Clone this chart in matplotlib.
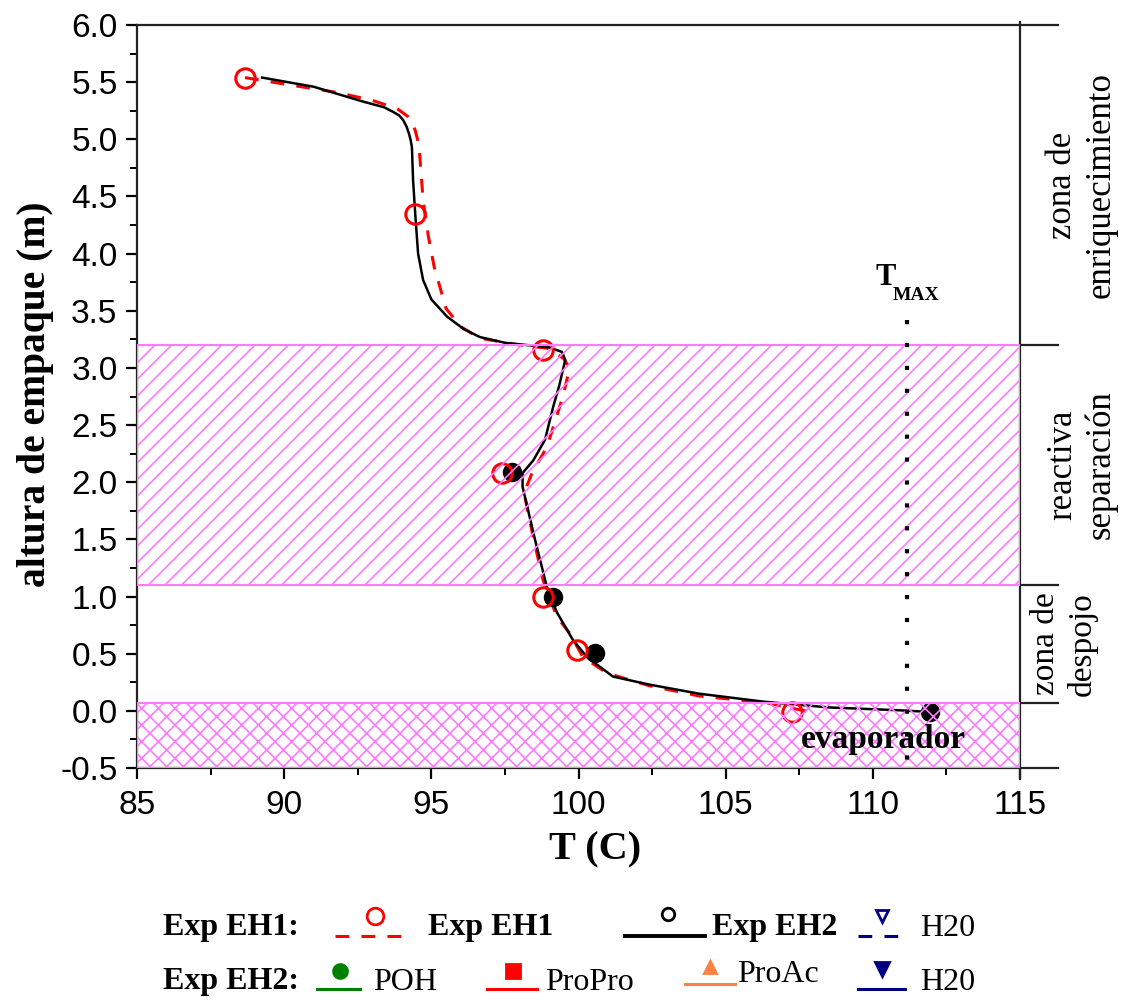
import matplotlib
matplotlib.use("Agg")
import matplotlib.pyplot as plt
from matplotlib.lines import Line2D
from matplotlib.ticker import FormatStrFormatter, AutoMinorLocator
import numpy as np

plt.rcParams["axes.unicode_minus"] = False
plt.rcParams["hatch.linewidth"] = 1.2
plt.rcParams["font.family"] = ["Liberation Sans", "DejaVu Sans"]
SERIF = ["Liberation Serif", "DejaVu Serif"]

# ---- simulated temperature profiles (T in C, packing height in m) ----
sim_eh2_T = [89.25, 91.0, 92.68, 93.4, 93.7, 93.9, 94.04, 94.16, 94.24, 94.3,
             94.34, 94.38, 94.45, 94.55, 94.72, 95.0, 95.53, 96.1, 96.65, 97.5,
             98.25, 99.0, 99.44, 99.55, 99.35, 99.14, 98.86, 98.46, 98.1, 98.1,
             98.52, 98.93, 99.27, 99.81, 100.29, 101.17, 102.4, 104.1, 106.3,
             108.5, 110.9, 111.95]
sim_eh2_h = [5.54, 5.46, 5.33, 5.28, 5.24, 5.21, 5.17, 5.11, 5.05, 4.99,
             4.93, 4.64, 4.36, 4.0, 3.77, 3.6, 3.45, 3.34, 3.27, 3.22,
             3.2, 3.18, 3.14, 3.07, 2.85, 2.66, 2.37, 2.19, 2.08, 1.96,
             1.5, 1.08, 0.86, 0.62, 0.47, 0.30, 0.23, 0.15, 0.08,
             0.03, 0.005, -0.01]

sim_eh1_T = [88.67, 89.6, 91.8, 93.0, 93.83, 94.2, 94.35, 94.45, 94.53, 94.6,
             94.72, 94.9, 95.1, 95.5, 96.0, 96.65, 98.0, 99.0, 99.5, 99.7,
             99.47, 98.93, 98.42, 98.25, 98.18, 98.46, 98.8, 99.27, 99.7, 100.15,
             100.97, 102.4, 104.1, 106.4, 107.3, 107.9]
sim_eh1_h = [5.54, 5.5, 5.41, 5.34, 5.27, 5.2, 5.15, 5.08, 5.0, 4.88,
             4.47, 4.15, 3.88, 3.52, 3.36, 3.26, 3.2, 3.17, 3.08, 3.0,
             2.75, 2.31, 2.08, 1.97, 1.87, 1.52, 1.14, 0.82, 0.68, 0.47,
             0.33, 0.22, 0.13, 0.07, 0.02, -0.01]

# ---- experimental points ----
exp_eh1_T = [88.67, 94.45, 98.8, 97.4, 98.8, 99.95, 107.26]
exp_eh1_h = [5.54, 4.35, 3.16, 2.08, 1.0, 0.53, -0.01]
exp_eh2_T = [97.74, 99.13, 100.56, 111.95]
exp_eh2_h = [2.09, 1.0, 0.51, -0.01]

# ---- column sections ----
reactive_zone = (1.1, 3.2)
evaporator_zone = (-0.5, 0.07)
zone_edges = [6.0, 3.2, 1.1, 0.07, -0.5]
t_max = 111.16

W, H = 1130, 1002
fig = plt.figure(figsize=(W / 100, H / 100), dpi=100)
fx = lambda px: px / W
fy = lambda py: 1 - py / H

ax = fig.add_axes([fx(137), fy(768), fx(1020) - fx(137), fy(25) - fy(768)])
ax.set_xlim(85, 115)
ax.set_ylim(-0.5, 6.0)
ax.set_xticks(np.arange(85, 116, 5))
ax.set_yticks(np.arange(-0.5, 6.01, 0.5))
ax.yaxis.set_major_formatter(FormatStrFormatter("%.1f"))
ax.xaxis.set_minor_locator(AutoMinorLocator(2))
ax.yaxis.set_minor_locator(AutoMinorLocator(2))
ax.tick_params(which="major", direction="out", length=8, width=1.6, labelsize=24)
ax.tick_params(which="minor", direction="out", length=5, width=1.4)
ax.tick_params(axis="x", pad=8)
ax.tick_params(axis="y", pad=6)
ax.tick_params(top=False, right=False, which="both")
for s in ["left", "bottom", "top"]:
    ax.spines[s].set_linewidth(1.6)
    ax.spines[s].set_color("#222222")
ax.spines["right"].set_visible(False)

# simulated profiles
ax.plot(sim_eh1_T, sim_eh1_h, color="red", lw=2.2, dashes=(4.5, 4), zorder=2)
ax.plot(sim_eh2_T, sim_eh2_h, color="black", lw=1.8, zorder=3)

# experimental points
ax.plot(exp_eh2_T, exp_eh2_h, "o", color="black", ms=13, zorder=4)
ax.plot(exp_eh1_T, exp_eh1_h, "o", mfc="none", mec="red", ms=14, mew=2.2, zorder=5)

# hatched sections (over the data)
ax.axhspan(*reactive_zone, facecolor="none", edgecolor="#ff7aff", hatch="//", lw=1.5, zorder=6)
ax.axhspan(*evaporator_zone, facecolor="none", edgecolor="#ff7aff", hatch="xx", lw=1.5, zorder=6)

# maximum temperature marker
ax.plot([t_max, t_max], [3.42, -0.56], color="black", lw=3, dashes=(1, 4.5),
        clip_on=False, zorder=7)
ax.text(110.45, 3.79, "T", family=SERIF, fontweight="bold", fontsize=22,
        ha="center", va="center")
ax.text(111.47, 3.63, "MAX", family=SERIF, fontweight="bold", fontsize=14,
        ha="center", va="center")
ax.text(110.35, -0.255, "evaporador", family=SERIF, fontweight="bold", fontsize=24,
        ha="center", va="center", zorder=8)

# zone bracket on the right
tr = ax.get_yaxis_transform()
ax.plot([1.0, 1.0], [6.03, -0.6], transform=tr, color="#222222", lw=1.6, clip_on=False)
for yv in zone_edges:
    ax.plot([1.0, 1.043], [yv, yv], transform=tr, color="#222222", lw=1.6, clip_on=False)
ax.text(1.07, 4.6, "zona de\nenriquecimiento", transform=tr, rotation=90,
        family=SERIF, fontsize=25, ha="center", va="center", multialignment="center",
        linespacing=1.2)
ax.text(1.07, 2.15, "reactiva\nseparación", transform=tr, rotation=90,
        family=SERIF, fontsize=25, ha="center", va="center", multialignment="center",
        linespacing=1.2)
ax.text(1.05, 0.585, "zona de\ndespojo", transform=tr, rotation=90,
        family=SERIF, fontsize=24, ha="center", va="center", multialignment="center",
        linespacing=1.2)

# axis labels
fig.text(fx(36), fy(394), "altura de empaque (m)", rotation=90, family=SERIF,
         fontweight="bold", fontsize=28.5, ha="center", va="center")
fig.text(fx(595), fy(850), "T (C)", family=SERIF, fontweight="bold", fontsize=29,
         ha="center", va="center")

# ---- legend block ----
def handle(x0, x1, yl, xm, ym, color, marker, ms, filled, dashed=False, lw=2.2):
    kw = dict(transform=fig.transFigure, color=color, lw=lw)
    if dashed:
        kw["dashes"] = (4.5, 4)
    fig.add_artist(Line2D([fx(x0), fx(x1)], [fy(yl), fy(yl)], **kw))
    fig.add_artist(Line2D([fx(xm)], [fy(ym)], transform=fig.transFigure, ls="none",
                          marker=marker, ms=ms, mec=color,
                          mfc=color if filled else "none", mew=2.0))

def label(x, y, s, bold=False):
    fig.text(fx(x), fy(y), s, family=SERIF, fontsize=23,
             fontweight="bold" if bold else "normal", ha="left", va="center")

r1, r2 = 928, 982
label(163, r1, "Exp EH1:", bold=True)
handle(335, 413, r1 + 8, 375, r1 - 12, "red", "o", 12, False, dashed=True)
label(428, r1, "Exp EH1", bold=True)
handle(625, 705, r1 + 8, 668, r1 - 14, "black", "o", 9, False, lw=2.8)
label(712, r1, "Exp EH2", bold=True)
handle(858, 905, r1 + 8, 882, r1 - 12, "navy", "v", 9, False, dashed=True)
label(920, r1, "H20")

label(163, r2, "Exp EH2:", bold=True)
handle(317, 360, r2 + 7, 340, r2 - 11, "green", "o", 10, True)
label(373, r2, "POH")
handle(487, 537, r2 + 7, 513, r2 - 11, "red", "s", 10, True)
label(545, r2, "ProPro")
handle(685, 735, r2 + 2, 710, r2 - 15, "#ff8040", "^", 9, True)
label(737, r2 - 7, "ProAc")
handle(858, 905, r2 + 7, 882, r2 - 13, "navy", "v", 10, True)
label(920, r2, "H20")

fig.savefig("out.png", dpi=100)
